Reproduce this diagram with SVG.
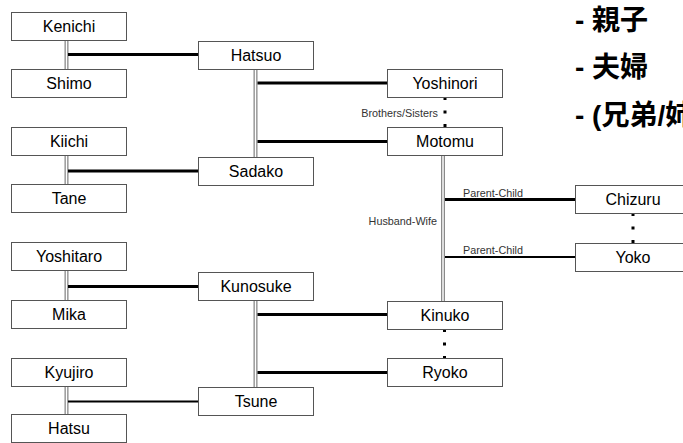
<svg xmlns="http://www.w3.org/2000/svg" width="683" height="443" viewBox="0 0 683 443">
<style>
.box rect{fill:#fff;stroke:#555;stroke-width:1}
.box text{font-family:"Liberation Sans",Arial,sans-serif;font-size:16px;fill:#000;text-anchor:middle}
.dbl{stroke:#8a8a8a;stroke-width:4;fill:none}
.dbli{stroke:#fff;stroke-width:1.4;fill:none}
.thick{stroke:#000;stroke-width:3;fill:none}
.thin{stroke:#000;stroke-width:2;fill:none}
.dot{stroke:#000;stroke-width:3;stroke-dasharray:3 10.5;fill:none}
.lbl{font-family:"Liberation Sans",Arial,sans-serif;font-size:10.8px;fill:#333}
.leg{font-family:"Liberation Sans","Noto Sans CJK JP",sans-serif;font-size:28px;font-weight:bold;fill:#000}
</style>
<rect width="683" height="443" fill="#fff"/>
<g id="connectors">
  <!-- couple double lines -->
  <path class="dbl" d="M66.5 40V69M66.5 156V184M66.5 270V300M66.5 386V414M255.5 69V157M255.5 300V387M443 155V301"/>
  <path class="dbli" d="M66.5 40V69M66.5 156V184M66.5 270V300M66.5 386V414M255.5 69V157M255.5 300V387M443 155V301"/>
  <!-- parent-child lines -->
  <path class="thick" d="M68 54.5H198M68 171H198M68 286.5H198M257.5 83H387M257.5 141.5H387M257.5 314.5H387M257.5 372.5H387M445 199.5H575"/>
  <path class="thin" d="M68 401.5H198M445 257H575"/>
  <!-- sibling dotted lines -->
  <path class="dot" d="M445 97V127M444.5 329V359M633 213V243"/>
  <text class="lbl" x="438" y="116.5" text-anchor="end">Brothers/Sisters</text>
  <text class="lbl" x="437" y="225" text-anchor="end">Husband-Wife</text>
  <text class="lbl" x="463" y="196.5">Parent-Child</text>
  <text class="lbl" x="463" y="254">Parent-Child</text>
</g>
<g id="Kenichi" class="box"><rect x="11.5" y="12.5" width="115" height="28"/><text x="69" y="32">Kenichi</text></g>
<g id="Shimo" class="box"><rect x="11.5" y="69.5" width="115" height="28"/><text x="69" y="89">Shimo</text></g>
<g id="Kiichi" class="box"><rect x="11.5" y="127.5" width="115" height="28"/><text x="69" y="147">Kiichi</text></g>
<g id="Tane" class="box"><rect x="11.5" y="184.5" width="115" height="28"/><text x="69" y="204">Tane</text></g>
<g id="Yoshitaro" class="box"><rect x="11.5" y="242.5" width="115" height="28"/><text x="69" y="262">Yoshitaro</text></g>
<g id="Mika" class="box"><rect x="11.5" y="300.5" width="115" height="28"/><text x="69" y="320">Mika</text></g>
<g id="Kyujiro" class="box"><rect x="11.5" y="358.5" width="115" height="28"/><text x="69" y="378">Kyujiro</text></g>
<g id="Hatsu" class="box"><rect x="11.5" y="414.5" width="115" height="28"/><text x="69" y="434">Hatsu</text></g>
<g id="Hatsuo" class="box"><rect x="198.5" y="41.5" width="115" height="28"/><text x="256" y="61">Hatsuo</text></g>
<g id="Sadako" class="box"><rect x="198.5" y="157.5" width="115" height="28"/><text x="256" y="177">Sadako</text></g>
<g id="Kunosuke" class="box"><rect x="198.5" y="272.5" width="115" height="28"/><text x="256" y="292">Kunosuke</text></g>
<g id="Tsune" class="box"><rect x="198.5" y="387.5" width="115" height="28"/><text x="256" y="407">Tsune</text></g>
<g id="Yoshinori" class="box"><rect x="387.5" y="69.5" width="115" height="28"/><text x="445" y="89">Yoshinori</text></g>
<g id="Motomu" class="box"><rect x="387.5" y="127.5" width="115" height="28"/><text x="445" y="147">Motomu</text></g>
<g id="Kinuko" class="box"><rect x="387.5" y="301.5" width="115" height="28"/><text x="445" y="321">Kinuko</text></g>
<g id="Ryoko" class="box"><rect x="387.5" y="358.5" width="115" height="28"/><text x="445" y="378">Ryoko</text></g>
<g id="Chizuru" class="box"><rect x="575.5" y="185.5" width="115" height="28"/><text x="633" y="205">Chizuru</text></g>
<g id="Yoko" class="box"><rect x="575.5" y="243.5" width="115" height="28"/><text x="633" y="263">Yoko</text></g>
<g id="legend">
  <text class="leg" x="575" y="30">- 親子</text>
  <text class="leg" x="575" y="77">- 夫婦</text>
  <text class="leg" x="575" y="125">- (兄弟/姉妹)</text>
</g>
</svg>
